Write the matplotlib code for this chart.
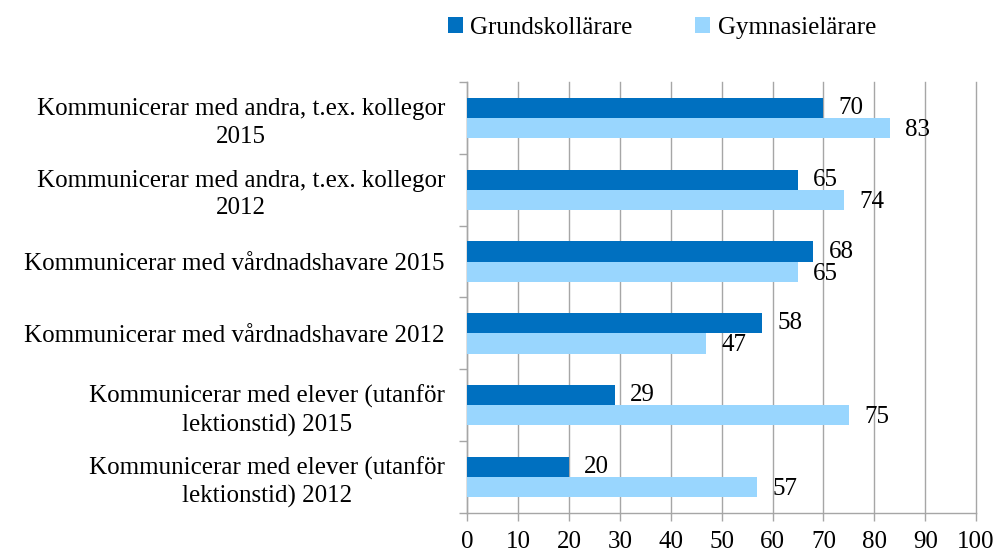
import matplotlib.pyplot as plt
import numpy as np

plt.rcParams['font.family'] = ['Liberation Serif', 'DejaVu Serif']

# Data
categories = [
    'Kommunicerar med andra, t.ex. kollegor\n2015',
    'Kommunicerar med andra, t.ex. kollegor\n2012',
    'Kommunicerar med vårdnadshavare 2015',
    'Kommunicerar med vårdnadshavare 2012',
    'Kommunicerar med elever (utanför\nlektionstid) 2015',
    'Kommunicerar med elever (utanför\nlektionstid) 2012',
]
grund = [70, 65, 68, 58, 29, 20]
gymn = [83, 74, 65, 47, 75, 57]
series_names = ['Grundskollärare', 'Gymnasielärare']
xticks = list(range(0, 101, 10))

dark = '#0070C0'
light = '#99D6FE'
grid_col = '#A6A6A6'
fs = 18

fig = plt.figure(figsize=(9.94, 5.54), dpi=100)
ax = fig.add_axes([0.470, 0.074, 0.512, 0.778])

y = np.arange(len(categories))
h = 0.28
b1 = ax.barh(y - h / 2, grund, height=h, color=dark, label=series_names[0], zorder=3)
b2 = ax.barh(y + h / 2, gymn, height=h, color=light, label=series_names[1], zorder=3)

# value labels
for v, yy in zip(grund, y):
    ax.text(v + 3.0, yy - h * 0.5, str(v), va='center', ha='left', fontsize=fs, zorder=4)
for v, yy in zip(gymn, y):
    ax.text(v + 3.0, yy + h * 0.6, str(v), va='center', ha='left', fontsize=fs, zorder=4)

ax.set_xlim(0, 100)
ax.set_ylim(len(categories) - 0.5, -0.5)
ax.set_xticks(xticks)
ax.set_xticklabels([str(t) for t in xticks], fontsize=fs)
ax.set_yticks(y)
ax.set_yticklabels(categories, fontsize=fs, linespacing=1.3, multialignment='center')
ax.tick_params(axis='y', length=0, pad=16)
ax.set_yticks(np.arange(-0.5, len(categories), 1), minor=True)
ax.tick_params(axis='y', which='minor', length=6, color=grid_col, width=1)
ax.tick_params(axis='x', length=6, color=grid_col, width=1, pad=7)

ax.grid(axis='x', color=grid_col, linewidth=1, zorder=0)
for gl in ax.get_xgridlines():
    gl.set_clip_on(False)
for s in ['top', 'right']:
    ax.spines[s].set_visible(False)
for s in ['left', 'bottom']:
    ax.spines[s].set_color(grid_col)
    ax.spines[s].set_linewidth(1)

fig.legend(handles=[b1, b2], loc='upper center', bbox_to_anchor=(0.666, 1.01),
           ncol=2, frameon=False, fontsize=fs, handlelength=0.6, handleheight=0.6,
           columnspacing=2.5, handletextpad=0.3)

fig.savefig('out.png', dpi=100)
